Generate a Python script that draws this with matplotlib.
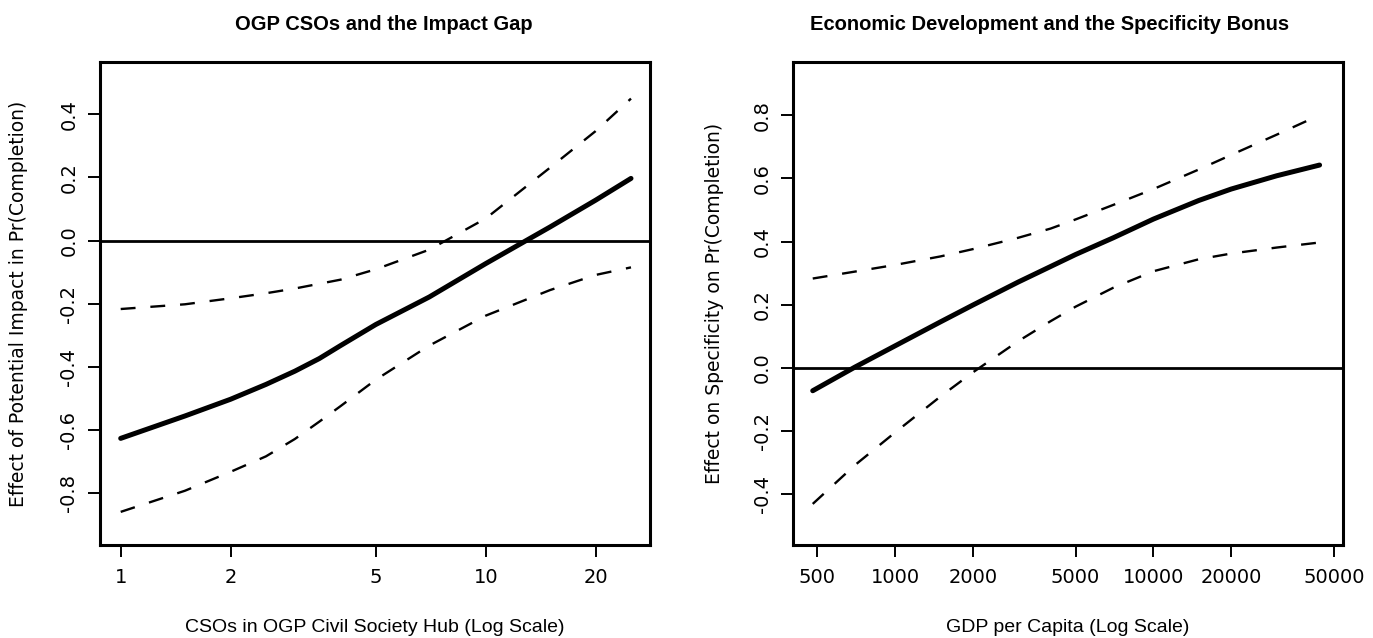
"""Two marginal-effect panels (R base-graphics look), log-scale x axes."""

import matplotlib
matplotlib.use('Agg')
import matplotlib.pyplot as plt
from matplotlib.ticker import FixedLocator, NullLocator

# --- left panel: CSOs in OGP hub ---
cso_x = [1, 1.5, 2, 2.5, 3, 3.5, 4, 5, 7, 10, 15, 20, 25]
cso_est = [-0.627, -0.556, -0.503, -0.456, -0.414, -0.374, -0.333, -0.266,
           -0.179, -0.073, 0.043, 0.128, 0.197]
cso_hi = [-0.217, -0.202, -0.183, -0.167, -0.152, -0.137, -0.124, -0.091,
          -0.029, 0.070, 0.231, 0.347, 0.450]
cso_lo = [-0.860, -0.793, -0.733, -0.684, -0.629, -0.574, -0.525, -0.441,
          -0.333, -0.238, -0.157, -0.109, -0.085]
cso_ticks = [1, 2, 5, 10, 20]
cso_yticks = [-0.8, -0.6, -0.4, -0.2, 0.0, 0.2, 0.4]

# --- right panel: GDP per capita ---
gdp_x = [480, 700, 1000, 1500, 2000, 3000, 4000, 5000, 7000, 10000,
         15000, 20000, 30000, 44000]
gdp_est = [-0.072, 0.003, 0.070, 0.146, 0.199, 0.272, 0.321, 0.359, 0.412,
           0.471, 0.530, 0.566, 0.608, 0.642]
gdp_hi = [0.283, 0.305, 0.326, 0.353, 0.376, 0.412, 0.441, 0.470, 0.516,
          0.566, 0.628, 0.674, 0.738, 0.800]
gdp_lo = [-0.430, -0.307, -0.204, -0.090, -0.014, 0.085, 0.148, 0.194,
          0.254, 0.306, 0.344, 0.362, 0.381, 0.397]
gdp_ticks = [500, 1000, 2000, 5000, 10000, 20000, 50000]
gdp_yticks = [-0.4, -0.2, 0.0, 0.2, 0.4, 0.6, 0.8]

W, H = 1373, 638
TICK_FONT = 'DejaVu Sans'
LABEL_FONT = 'Liberation Sans'


def effect_panel(ax, x, est, lo, hi, xticks, yticks, xlim, ylim):
    ax.set_xscale('log')
    ax.axhline(0, color='black', lw=2.0, zorder=1)
    ax.plot(x, est, color='black', lw=3.6, solid_capstyle='round', zorder=3)
    for band in (lo, hi):
        ax.plot(x, band, color='black', lw=1.7, dashes=(6.3, 6.3), zorder=2)

    ax.set_xlim(*xlim)
    ax.set_ylim(*ylim)
    ax.xaxis.set_major_locator(FixedLocator(xticks))
    ax.xaxis.set_minor_locator(NullLocator())
    ax.set_xticklabels([str(t) for t in xticks], family=TICK_FONT, fontsize=14)
    ax.set_yticks(yticks)
    ax.set_yticklabels([f'{t:.1f}' for t in yticks], family=TICK_FONT,
                       fontsize=14, rotation=90, va='center')
    ax.tick_params(direction='out', length=8.6, width=1.4, color='black',
                   top=False, right=False)
    ax.tick_params(axis='x', pad=8)
    ax.tick_params(axis='y', pad=7)
    for s in ax.spines.values():
        s.set_linewidth(2.2)


def main():
    fig = plt.figure(figsize=(W / 100, H / 100), dpi=100)
    bottom, height = 1 - 545 / H, 483 / H
    left = fig.add_axes([100 / W, bottom, 550 / W, height])
    right = fig.add_axes([793.3 / W, bottom, 549.4 / W, height])

    effect_panel(left, cso_x, cso_est, cso_lo, cso_hi, cso_ticks, cso_yticks,
                 (10 ** -0.0567, 10 ** 1.45), (-0.965, 0.566))
    effect_panel(right, gdp_x, gdp_est, gdp_lo, gdp_hi, gdp_ticks, gdp_yticks,
                 (10 ** 2.606, 10 ** 4.733), (-0.560, 0.968))

    title_y = 1 - 30 / H
    fig.text(384 / W, title_y, 'OGP CSOs and the Impact Gap', ha='center',
             va='baseline', family=LABEL_FONT, weight='bold', fontsize=14.5)
    fig.text(1050 / W, title_y, 'Economic Development and the Specificity Bonus',
             ha='center', va='baseline', family=LABEL_FONT, weight='bold',
             fontsize=14.5)

    xlab_y = 1 - 631.5 / H
    fig.text(375 / W, xlab_y, 'CSOs in OGP Civil Society Hub (Log Scale)',
             ha='center', va='baseline', family=LABEL_FONT, fontsize=14)
    fig.text(1068 / W, xlab_y, 'GDP per Capita (Log Scale)',
             ha='center', va='baseline', family=LABEL_FONT, fontsize=14)

    ylab_y = 1 - 303.5 / H
    fig.text(18.7 / W, ylab_y, 'Effect of Potential Impact in Pr(Completion)',
             rotation=90, ha='center', va='center', family=TICK_FONT, fontsize=13.5)
    fig.text(715 / W, ylab_y, 'Effect on Specificity on Pr(Completion)',
             rotation=90, ha='center', va='center', family=TICK_FONT, fontsize=13.5)

    fig.savefig('out.png', dpi=100)


if __name__ == '__main__':
    main()
